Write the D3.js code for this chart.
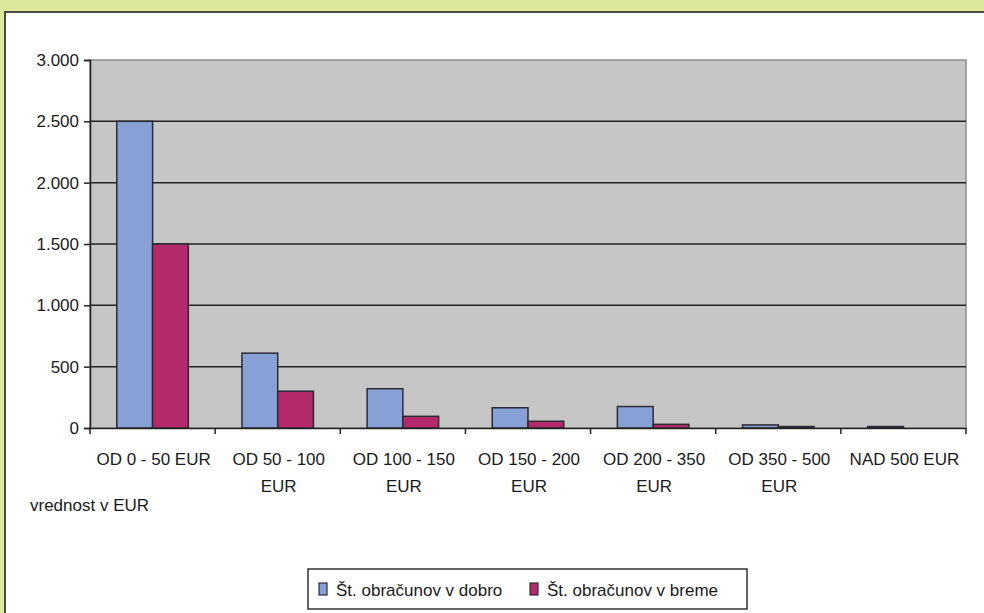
<!DOCTYPE html>
<html>
<head>
<meta charset="utf-8">
<script src="https://cdn.jsdelivr.net/npm/d3@7"></script>
<style>
  html, body { margin: 0; padding: 0; overflow: hidden; background: #dde89a; }
  svg { display: block; }
  text { font-family: "Liberation Sans", Arial, sans-serif; fill: #1a1a1a; }
</style>
</head>
<body>
<script>
// podatki
var categories = ["OD 0 - 50 EUR", "OD 50 - 100 EUR", "OD 100 - 150 EUR", "OD 150 - 200 EUR",
                  "OD 200 - 350 EUR", "OD 350 - 500 EUR", "NAD 500 EUR"];
var seriesNames = ["Št. obračunov v dobro", "Št. obračunov v breme"];
var dobro = [2500, 610, 320, 165, 175, 25, 12];
var breme = [1500, 300, 95, 55, 30, 12, 0];
var yTicks = [0, 500, 1000, 1500, 2000, 2500, 3000];
var axisTitle = "vrednost v EUR";
var colors = ["#87a1d6", "#b3296a"];

var width = 984, height = 613;
var plotLeft = 90, plotRight = 966, plotTop = 60, plotBottom = 428;

var svg = d3.select("body").append("svg").attr("width", width).attr("height", height);

// ozadje
svg.append("rect").attr("width", width).attr("height", height).attr("fill", "#dde89a");
svg.append("rect").attr("x", 5).attr("y", 12).attr("width", 1010).attr("height", 700)
    .attr("fill", "#fff").attr("stroke", "#4a4a4a").attr("stroke-width", 2);

var x0 = d3.scaleBand().domain(categories).range([plotLeft, plotRight]);
var bw = x0.bandwidth();
var x1 = d3.scaleBand().domain(seriesNames).range([bw * 0.75 / 3.5, bw - bw * 0.75 / 3.5]);
var y = d3.scaleLinear().domain([0, 3000]).range([plotBottom, plotTop]);

var loc = d3.formatLocale({decimal: ",", thousands: ".", grouping: [3], currency: ["", ""]});
var fmt = loc.format(",");

// plot area
svg.append("rect").attr("x", plotLeft).attr("y", plotTop)
    .attr("width", plotRight - plotLeft).attr("height", plotBottom - plotTop)
    .attr("fill", "#c6c6c6").attr("stroke", "#8c8c8c").attr("stroke-width", 1.5);

// mreza
svg.append("g").selectAll("line").data(yTicks.filter(function(d) { return d > 0 && d < 3000; }))
    .enter().append("line")
    .attr("x1", plotLeft).attr("x2", plotRight)
    .attr("y1", function(d) { return y(d); }).attr("y2", function(d) { return y(d); })
    .attr("stroke", "#222").attr("stroke-width", 1.5);

// stolpci
var data = categories.map(function(c, i) { return {cat: c, vals: [dobro[i], breme[i]]}; });
var groups = svg.append("g").selectAll("g").data(data).enter().append("g")
    .attr("transform", function(d) { return "translate(" + x0(d.cat) + ",0)"; });
groups.selectAll("rect").data(function(d) {
        return d.vals.map(function(v, j) { return {s: seriesNames[j], v: v, j: j}; });
    })
    .enter().append("rect")
    .attr("x", function(d) { return x1(d.s); })
    .attr("width", x1.bandwidth())
    .attr("y", function(d) { return y(d.v); })
    .attr("height", function(d) { return plotBottom - y(d.v); })
    .attr("fill", function(d) { return colors[d.j]; })
    .attr("stroke", "#2b2b35").attr("stroke-width", 1.5);

// os y
var yAxis = d3.axisLeft(y).tickValues(yTicks).tickFormat(fmt).tickSize(6).tickPadding(5);
var gy = svg.append("g").attr("transform", "translate(" + plotLeft + ",0)").call(yAxis);
gy.select(".domain").attr("stroke", "#222").attr("stroke-width", 1.5);
gy.selectAll(".tick line").attr("stroke", "#222").attr("stroke-width", 1.5);
gy.selectAll("text").attr("font-size", 17).attr("font-family", null).attr("fill", "#1a1a1a");

// os x
var xAxis = d3.axisBottom(x0).tickSize(0).tickFormat("");
var gx = svg.append("g").attr("transform", "translate(0," + plotBottom + ")").call(xAxis);
gx.select(".domain").attr("stroke", "#222").attr("stroke-width", 1.5);
var bounds = categories.map(function(c) { return x0(c); }).concat([plotRight]);
gx.selectAll(".sep").data(bounds).enter().append("line").attr("class", "sep")
    .attr("x1", function(d) { return d; }).attr("x2", function(d) { return d; })
    .attr("y1", 0).attr("y2", 6).attr("stroke", "#222").attr("stroke-width", 1.5);

var labels = svg.append("g").selectAll("text").data(categories).enter().append("text")
    .attr("text-anchor", "middle").attr("font-size", 17)
    .attr("x", function(d) { return x0(d) + bw / 2 + 1; })
    .attr("y", 465);
labels.each(function(d) {
    var lines = d.length > 13 ? [d.replace(/ EUR$/, ""), "EUR"] : [d];
    var t = d3.select(this);
    lines.forEach(function(l, i) {
        t.append("tspan").attr("x", t.attr("x")).attr("dy", i === 0 ? 0 : 27).text(l);
    });
});

svg.append("text").attr("x", 30).attr("y", 511).attr("font-size", 17).text(axisTitle);

// legenda
var legend = svg.append("g");
legend.append("rect").attr("x", 308).attr("y", 569).attr("width", 439).attr("height", 40)
    .attr("fill", "#fff").attr("stroke", "#333").attr("stroke-width", 1.5);
var legX = [319, 530];
seriesNames.forEach(function(s, i) {
    legend.append("rect").attr("x", legX[i]).attr("y", 583).attr("width", 8).attr("height", 12)
        .attr("fill", colors[i]).attr("stroke", "#2b2b35").attr("stroke-width", 1.2);
    legend.append("text").attr("x", legX[i] + 17).attr("y", 596).attr("font-size", 17).text(s);
});
</script>
</body>
</html>
